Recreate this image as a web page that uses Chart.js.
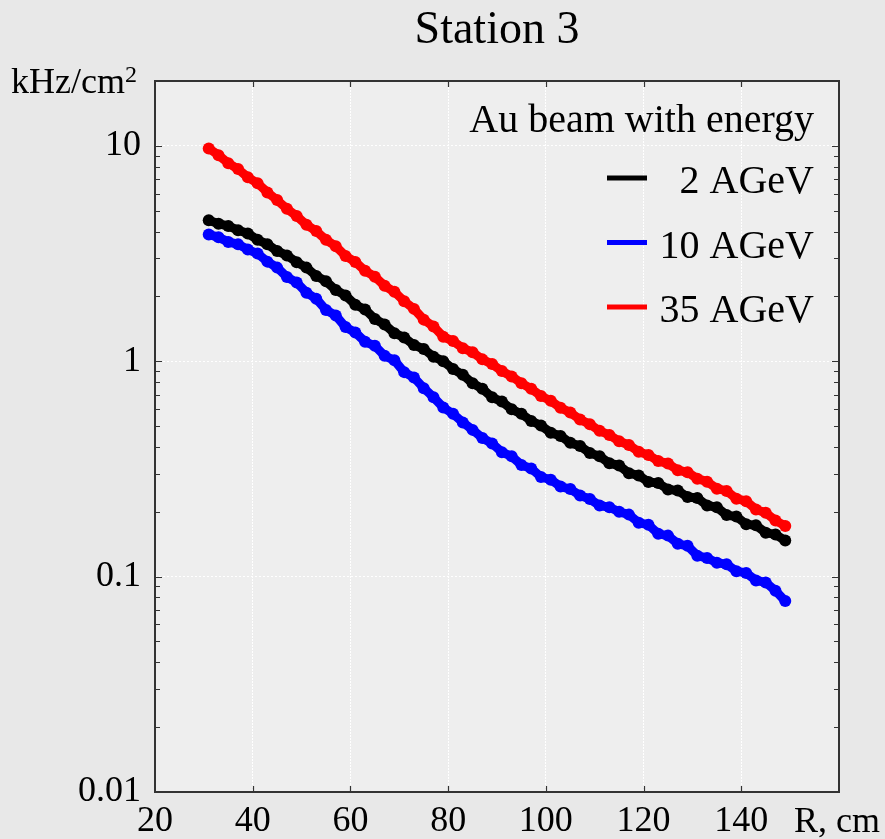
<!DOCTYPE html>
<html>
<head>
<meta charset="utf-8">
<script src="https://cdn.jsdelivr.net/npm/chart.js@4"></script>
<style>
  html, body { margin: 0; padding: 0; background: #e8e8e8; }
  #wrap { width: 885px; height: 839px; }
</style>
</head>
<body>
<div id="wrap"><canvas id="chart" width="885" height="839"></canvas></div>
<script>
// radius, cm
const radius = [31, 33, 35, 37, 39, 41, 43, 45, 47, 49, 51, 53, 55, 57, 59, 61, 63, 65, 67, 69,
  71, 73, 75, 77, 79, 81, 83, 85, 87, 89, 91, 93, 95, 97, 99, 101, 103, 105, 107, 109,
  111, 113, 115, 117, 119, 121, 123, 125, 127, 129, 131, 133, 135, 137, 139, 141, 143, 145, 147, 149];

// hit rate, kHz/cm2
const rate2 = [4.51, 4.35, 4.24, 4.06, 3.92, 3.66, 3.49, 3.25, 3.10, 2.88,
  2.72, 2.49, 2.35, 2.14, 2.02, 1.83, 1.74, 1.57, 1.48, 1.35,
  1.29, 1.19, 1.14, 1.05, 1.0, 0.92, 0.865, 0.79, 0.745, 0.68,
  0.65, 0.598, 0.57, 0.528, 0.503, 0.466, 0.45, 0.418, 0.404, 0.375,
  0.362, 0.336, 0.328, 0.302, 0.295, 0.275, 0.272, 0.254, 0.251, 0.234,
  0.232, 0.214, 0.21, 0.193, 0.19, 0.175, 0.173, 0.16, 0.157, 0.147];
const rate10 = [3.88, 3.76, 3.58, 3.49, 3.30, 3.16, 2.90, 2.72, 2.46, 2.32,
  2.08, 1.95, 1.73, 1.63, 1.44, 1.36, 1.23, 1.18, 1.06, 1.01,
  0.89, 0.84, 0.75, 0.68, 0.61, 0.57, 0.52, 0.48, 0.44, 0.415,
  0.378, 0.362, 0.33, 0.318, 0.29, 0.282, 0.262, 0.255, 0.238, 0.229,
  0.214, 0.21, 0.2, 0.194, 0.178, 0.174, 0.158, 0.155, 0.142, 0.139,
  0.125, 0.122, 0.116, 0.114, 0.106, 0.104, 0.096, 0.094, 0.086, 0.077];
const rate35 = [9.73, 9.05, 8.31, 7.80, 7.15, 6.70, 6.08, 5.60, 5.10, 4.72,
  4.30, 4.02, 3.66, 3.42, 3.08, 2.89, 2.63, 2.47, 2.24, 2.10,
  1.90, 1.75, 1.56, 1.45, 1.30, 1.24, 1.15, 1.10, 1.02, 0.97,
  0.90, 0.85, 0.79, 0.745, 0.69, 0.655, 0.608, 0.578, 0.536, 0.51,
  0.475, 0.455, 0.425, 0.408, 0.380, 0.367, 0.344, 0.335, 0.312, 0.305,
  0.285, 0.276, 0.256, 0.25, 0.23, 0.224, 0.205, 0.198, 0.182, 0.172];

const seriesNames = ["2 AGeV", "10 AGeV", "35 AGeV"];
const yMajor = [0.01, 0.1, 1, 10];
const xTicks = [20, 40, 60, 80, 100, 120, 140, 160];
const xAxisName = "R, cm";

const SERIF = "'Liberation Serif', 'Times New Roman', serif";

// minor log ticks between the decades (plus 20 at the top)
const yTicks = [];
for (const d of [0.01, 0.1, 1, 10]) {
  for (let m = 1; m <= 9; m++) {
    const v = +(d * m).toPrecision(3);
    if (v <= 20) yTicks.push(v);
  }
}
yTicks.push(20);

const isMajor = v => yMajor.some(m => Math.abs(m - v) / m < 1e-6);

function series(label, values, color) {
  return {
    label: label,
    data: radius.map((r, i) => ({ x: r, y: values[i] })),
    borderColor: color,
    backgroundColor: color,
    borderWidth: 9,
    pointRadius: 6,
    pointBorderWidth: 0,
    pointBackgroundColor: color,
    tension: 0
  };
}

// background, frame, inside ticks, extra texts and the legend
const decorations = {
  id: "decorations",
  beforeDraw(chart) {
    const c = chart.ctx, a = chart.chartArea;
    c.save();
    c.fillStyle = "#e8e8e8";
    c.fillRect(0, 0, chart.width, chart.height);
    c.fillStyle = "#eeeeee";
    c.fillRect(a.left, a.top, a.right - a.left, a.bottom - a.top);
    c.restore();
  },
  afterDatasetsDraw(chart) {
    const c = chart.ctx, a = chart.chartArea;
    const x = chart.scales.x, y = chart.scales.y;
    c.save();
    c.strokeStyle = "#333";
    c.lineWidth = 2;
    c.strokeRect(a.left, a.top, a.right - a.left, a.bottom - a.top);

    c.lineWidth = 1.2;
    c.beginPath();
    for (const v of yTicks) {
      const py = Math.round(y.getPixelForValue(v)) + 0.5;
      if (py <= a.top + 1 || py >= a.bottom - 1) continue;
      const len = isMajor(v) ? 7 : 5;
      c.moveTo(a.left, py); c.lineTo(a.left + len, py);
      c.moveTo(a.right, py); c.lineTo(a.right - len, py);
    }
    for (const v of xTicks) {
      const px = Math.round(x.getPixelForValue(v)) + 0.5;
      if (px <= a.left + 1 || px >= a.right - 1) continue;
      c.moveTo(px, a.bottom); c.lineTo(px, a.bottom - 6);
      c.moveTo(px, a.top); c.lineTo(px, a.top + 6);
    }
    c.stroke();

    c.fillStyle = "#000";
    c.textBaseline = "alphabetic";
    c.textAlign = "center";
    c.font = "46px " + SERIF;
    c.fillText("Station 3", (a.left + a.right) / 2, 43);

    // axis name sits where the last x label would be
    c.font = "36px " + SERIF;
    c.fillText(xAxisName, x.getPixelForValue(160) - 2, 832);

    c.textAlign = "left";
    c.fillText("kHz/cm", 11, 93);
    const w = c.measureText("kHz/cm").width;
    c.font = "24px " + SERIF;
    c.fillText("2", 11 + w, 82);

    // legend
    c.textAlign = "right";
    c.font = "40px " + SERIF;
    const tx = a.right - 25;
    c.fillText("Au beam with energy", tx, 132);
    chart.data.datasets.forEach((ds, i) => {
      const base = 193 + i * 64.5;
      c.fillText(ds.label, tx, base);
      c.strokeStyle = ds.borderColor;
      c.lineWidth = 5;
      c.beginPath();
      c.moveTo(607, base - 15);
      c.lineTo(647, base - 15);
      c.stroke();
    });
    c.restore();
  }
};

new Chart(document.getElementById("chart"), {
  type: "line",
  data: {
    datasets: [
      series(seriesNames[0], rate2, "#000000"),
      series(seriesNames[1], rate10, "#0000ff"),
      series(seriesNames[2], rate35, "#ff0000")
    ]
  },
  options: {
    responsive: false,
    animation: false,
    layout: { padding: { top: 81, right: 46, left: 0, bottom: 0 } },
    plugins: { legend: { display: false }, title: { display: false }, tooltip: { enabled: false } },
    scales: {
      x: {
        type: "linear",
        min: 20,
        max: 160,
        afterBuildTicks: s => { s.ticks = xTicks.map(v => ({ value: v })); },
        afterFit: s => { s.height = 47; },
        ticks: {
          color: "#000",
          padding: 8,
          maxRotation: 0,
          font: { family: SERIF, size: 36 },
          callback: v => (v === 160 ? "" : String(v))
        },
        grid: {
          drawTicks: false,
          lineWidth: 1,
          color: c => (c.tick && c.tick.value > 20 && c.tick.value < 160 ? "rgba(255,255,255,0.95)" : "rgba(0,0,0,0)")
        },
        border: { display: false, dash: [2, 1] }
      },
      y: {
        type: "logarithmic",
        min: 0.01,
        max: 20,
        afterBuildTicks: s => { s.ticks = yTicks.map(v => ({ value: v })); },
        afterFit: s => { s.width = 155; },
        ticks: {
          color: "#000",
          padding: 14,
          autoSkip: false,
          font: { family: SERIF, size: 36 },
          callback: v => (isMajor(v) ? String(+v.toPrecision(2)) : "")
        },
        grid: {
          drawTicks: false,
          lineWidth: 1,
          color: c => (c.tick && isMajor(c.tick.value) && c.tick.value > 0.01 ? "rgba(255,255,255,0.95)" : "rgba(0,0,0,0)")
        },
        border: { display: false, dash: [2, 2] }
      }
    }
  },
  plugins: [decorations]
});
</script>
</body>
</html>
